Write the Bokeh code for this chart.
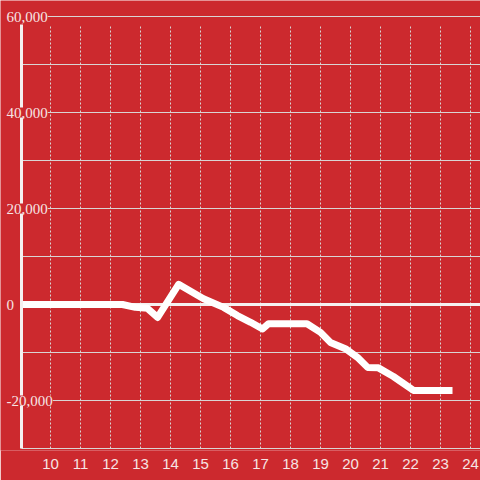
from bokeh.plotting import figure
from bokeh.models import Range1d, FixedTicker, Grid, LabelSet, ColumnDataSource
from bokeh.embed import file_html
from bokeh.resources import INLINE

# ---- data ----
hours = [9.033, 12.4, 12.83, 13.23, 13.57, 14.27, 15.1, 15.77, 16.23, 16.67, 17.07,
         17.27, 18.55, 19.0, 19.33, 19.83, 20.23, 20.57, 20.93, 21.43, 22.1, 23.4]
values = [0, 0, -600, -800, -2700, 4200, 1200, -600, -2300, -3700, -5100,
          -4000, -4000, -5800, -7900, -9200, -11000, -13100, -13200, -15000, -17900, -17900]
x_ticks = list(range(10, 25))
y_label_ticks = [-20000, 0, 20000, 40000, 60000]
y_grid_ticks = [-30000, -20000, -10000, 0, 10000, 20000, 30000, 40000, 50000, 60000]

# axis extents (data units)
x_left, x_axis, x_end = 8.333, 9.033, 24.333
units_per_px = 20000 / 96
y_bottom, y_top = -30000, 60000
y_start = y_bottom - 2 * units_per_px
y_end = y_top + 16 * units_per_px
y_vtop = y_top - 8 * units_per_px

RED = "#cc292e"
TXT = "#f6e4e4"
GRID = "#d9d4d4"
AXIS = "#f5f0f0"
FONT = "Liberation Sans"
FSIZE = "15px"

p = figure(width=480, height=480, output_backend="svg", toolbar_location=None,
           x_range=Range1d(x_left, x_end), y_range=Range1d(y_start, y_end),
           min_border_left=0, min_border_right=0, min_border_top=0, min_border_bottom=30)
p.background_fill_color = RED
p.border_fill_color = RED
p.outline_line_color = None

# x axis
p.xaxis.ticker = FixedTicker(ticks=x_ticks)
p.xaxis.axis_line_color = None
p.xaxis.major_tick_line_color = None
p.xaxis.minor_tick_line_color = None
p.xaxis.major_label_standoff = 2
p.xaxis.major_label_text_color = TXT
p.xaxis.major_label_text_font = FONT
p.xaxis.major_label_text_font_size = FSIZE

p.yaxis.visible = False

# grids
p.xgrid.grid_line_color = GRID
p.xgrid.grid_line_dash = "2 2"
p.xgrid.grid_line_width = 1
p.xgrid.cross_bounds = (y_bottom, y_vtop)
p.ygrid.ticker = FixedTicker(ticks=y_grid_ticks)
p.ygrid.grid_line_color = GRID
p.ygrid.grid_line_width = 1
p.ygrid.cross_bounds = (x_axis, x_end)

# zero baseline
zero_grid = Grid(dimension=1, ticker=FixedTicker(ticks=[0]), grid_line_color=AXIS,
                 grid_line_width=3, cross_bounds=(x_axis, x_end))
p.add_layout(zero_grid)

# data line
p.line(hours, values, line_color="white", line_width=7, line_join="round", line_cap="butt")

# left axis line
axis_grid = Grid(dimension=0, ticker=FixedTicker(ticks=[x_axis]), grid_line_color=AXIS,
                 grid_line_width=3, cross_bounds=(y_bottom, y_vtop), level="annotation")
p.add_layout(axis_grid)

# y labels drawn inside the chart with background
lab_src = ColumnDataSource(dict(
    x=[x_axis] * len(y_label_ticks),
    y=y_label_ticks,
    text=[f"{v:,}" for v in y_label_ticks],
))
labels = LabelSet(x="x", y="y", text="text", source=lab_src, x_offset=-15,
                  text_align="left", text_baseline="middle",
                  text_color=TXT, text_font=FONT, text_font_size=FSIZE,
                  background_fill_color=RED)
p.add_layout(labels)

open("out.html", "w").write(file_html(p, INLINE))
